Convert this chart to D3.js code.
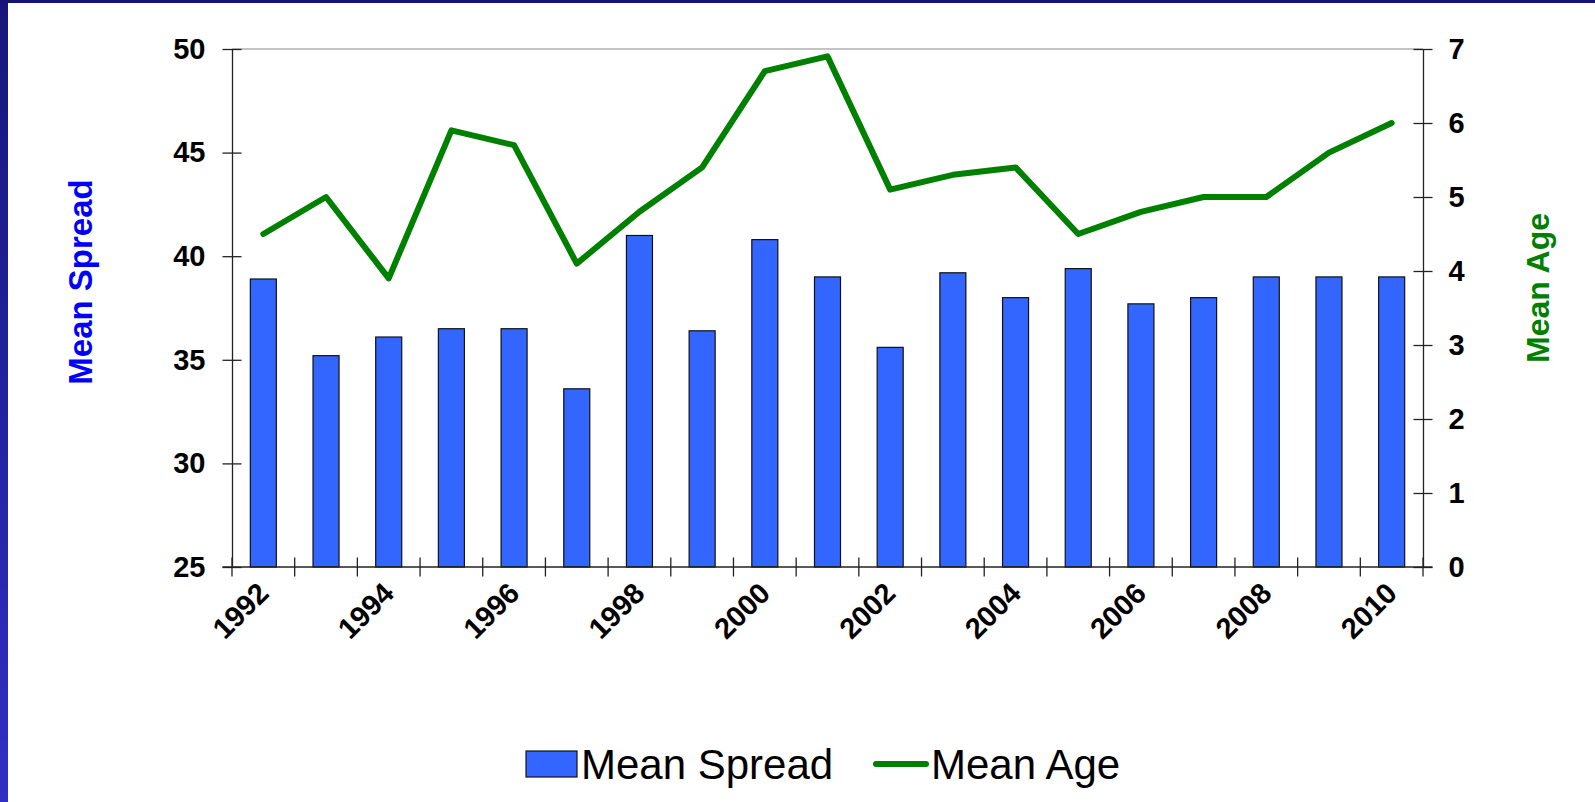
<!DOCTYPE html>
<html>
<head>
<meta charset="utf-8">
<script src="https://cdn.jsdelivr.net/npm/d3@7"></script>
<style>
  body { margin: 0; background: #fff; }
  svg { display: block; font-family: "Liberation Sans", Arial, sans-serif; }
</style>
</head>
<body>
<script>
// ---- data
var years = d3.range(1992, 2011)
var meanSpread = [38.9, 35.2, 36.1, 36.5, 36.5, 33.6, 41.0, 36.4, 40.8, 39.0,
                  35.6, 39.2, 38.0, 39.4, 37.7, 38.0, 39.0, 39.0, 39.0]
var meanAge = [4.5, 5.0, 3.9, 5.9, 5.7, 4.1, 4.8, 5.4, 6.7, 6.9,
               5.1, 5.3, 5.4, 4.5, 4.8, 5.0, 5.0, 5.6, 6.0]
var spreadTicks = [25, 30, 35, 40, 45, 50]
var ageTicks = [0, 1, 2, 3, 4, 5, 6, 7]
var yearLabels = [1992, 1994, 1996, 1998, 2000, 2002, 2004, 2006, 2008, 2010]

var W = 1595, H = 802
var plotL = 232, plotR = 1423, plotT = 49, plotB = 567

var svg = d3.select('body').append('svg')
    .attr('width', W).attr('height', H)

// frame (slide edges)
var grad = svg.append('defs').append('linearGradient')
    .attr('id', 'edge').attr('x1', 0).attr('y1', 0).attr('x2', 0).attr('y2', 1)
grad.append('stop').attr('offset', '0%').attr('stop-color', '#16167a')
grad.append('stop').attr('offset', '100%').attr('stop-color', '#3030c4')
svg.append('rect').attr('x', 0).attr('y', 0).attr('width', 8).attr('height', H)
    .attr('fill', 'url(#edge)')
svg.append('rect').attr('x', 0).attr('y', 0).attr('width', W).attr('height', 3)
    .attr('fill', '#141478')

// scales
var x = d3.scaleBand().domain(years).range([plotL, plotR])
    .paddingInner(0.585).paddingOuter(0.2925)
var yL = d3.scaleLinear().domain([25, 50]).range([plotB, plotT])
var yR = d3.scaleLinear().domain([0, 7]).range([plotB, plotT])

// plot top border
svg.append('line').attr('x1', plotL).attr('x2', plotR).attr('y1', plotT).attr('y2', plotT)
    .attr('stroke', '#888').attr('stroke-width', 1.2)

// bars
svg.append('g').selectAll('rect').data(meanSpread).enter()
  .append('rect')
    .attr('x', function(d, i) { return x(years[i]) })
    .attr('width', x.bandwidth())
    .attr('y', function(d) { return yL(d) })
    .attr('height', function(d) { return yL(25) - yL(d) })
    .attr('fill', '#3366ff')
    .attr('stroke', '#111').attr('stroke-width', 1.2)

// axes
var axisCol = '#222'
var tickSz = 9.5
var yAxisL = svg.append('g').attr('transform', 'translate(' + plotL + ',0)')
    .call(d3.axisLeft(yL).tickValues(spreadTicks).tickFormat(d3.format('d'))
      .tickSize(tickSz).tickSizeOuter(0).tickPadding(17))
var yAxisR = svg.append('g').attr('transform', 'translate(' + plotR + ',0)')
    .call(d3.axisRight(yR).tickValues(ageTicks).tickFormat(d3.format('d'))
      .tickSize(tickSz).tickSizeOuter(0).tickPadding(16))
;[yAxisL, yAxisR].forEach(function(a) {
  a.select('.domain').attr('stroke', axisCol).attr('stroke-width', 1.3)
  a.selectAll('.tick line').attr('stroke', axisCol).attr('stroke-width', 1.3)
    .attr('x1', function() { return a === yAxisL ? tickSz : -tickSz })
  a.selectAll('.tick text').attr('fill', '#000')
    .style('font-size', '29px').style('font-weight', 'bold')
    .style('font-family', '"Liberation Sans", Arial, sans-serif')
})

// x axis line + boundary ticks
var bounds = years.map(function(yr) { return x(yr) - x.step() * x.paddingInner() / 2 })
bounds.push(plotR)
var xAxis = svg.append('g')
xAxis.append('line').attr('x1', plotL - tickSz).attr('x2', plotR + tickSz)
    .attr('y1', plotB).attr('y2', plotB)
    .attr('stroke', axisCol).attr('stroke-width', 1.3)
xAxis.selectAll('line.tk').data(bounds).enter().append('line').attr('class', 'tk')
    .attr('x1', function(d) { return d }).attr('x2', function(d) { return d })
    .attr('y1', plotB - tickSz).attr('y2', plotB + tickSz)
    .attr('stroke', axisCol).attr('stroke-width', 1.3)
xAxis.selectAll('text').data(yearLabels).enter().append('text')
    .attr('transform', function(d) {
      return 'translate(' + (x(d) + x.bandwidth() / 2 + 7) + ',' + (plotB + 28) + ') rotate(-45)'
    })
    .attr('text-anchor', 'end')
    .style('font-size', '29px').style('font-weight', 'bold')
    .text(function(d) { return d })

// line
var line = d3.line()
    .x(function(d, i) { return x(years[i]) + x.bandwidth() / 2 })
    .y(function(d) { return yR(d) })
svg.append('path').datum(meanAge)
    .attr('d', line)
    .attr('fill', 'none').attr('stroke', '#008000').attr('stroke-width', 6)
    .attr('stroke-linejoin', 'round').attr('stroke-linecap', 'round')

// axis titles
svg.append('text').attr('transform', 'translate(92,282) rotate(-90)')
    .attr('text-anchor', 'middle')
    .style('font-size', '33px').style('font-weight', 'bold').attr('fill', '#0000ff')
    .text('Mean Spread')
svg.append('text').attr('transform', 'translate(1549,288) rotate(-90)')
    .attr('text-anchor', 'middle')
    .style('font-size', '32px').style('font-weight', 'bold').attr('fill', '#008000')
    .text('Mean Age')

// legend
var lg = svg.append('g')
lg.append('rect').attr('x', 526).attr('y', 751).attr('width', 51).attr('height', 26)
    .attr('fill', '#3366ff').attr('stroke', '#111').attr('stroke-width', 1.2)
lg.append('text').attr('x', 581).attr('y', 779)
    .style('font-size', '42px').text('Mean Spread')
lg.append('line').attr('x1', 876).attr('x2', 926).attr('y1', 764).attr('y2', 764)
    .attr('stroke', '#008000').attr('stroke-width', 6).attr('stroke-linecap', 'round')
lg.append('text').attr('x', 931).attr('y', 779)
    .style('font-size', '42px').text('Mean Age')
</script>
</body>
</html>
